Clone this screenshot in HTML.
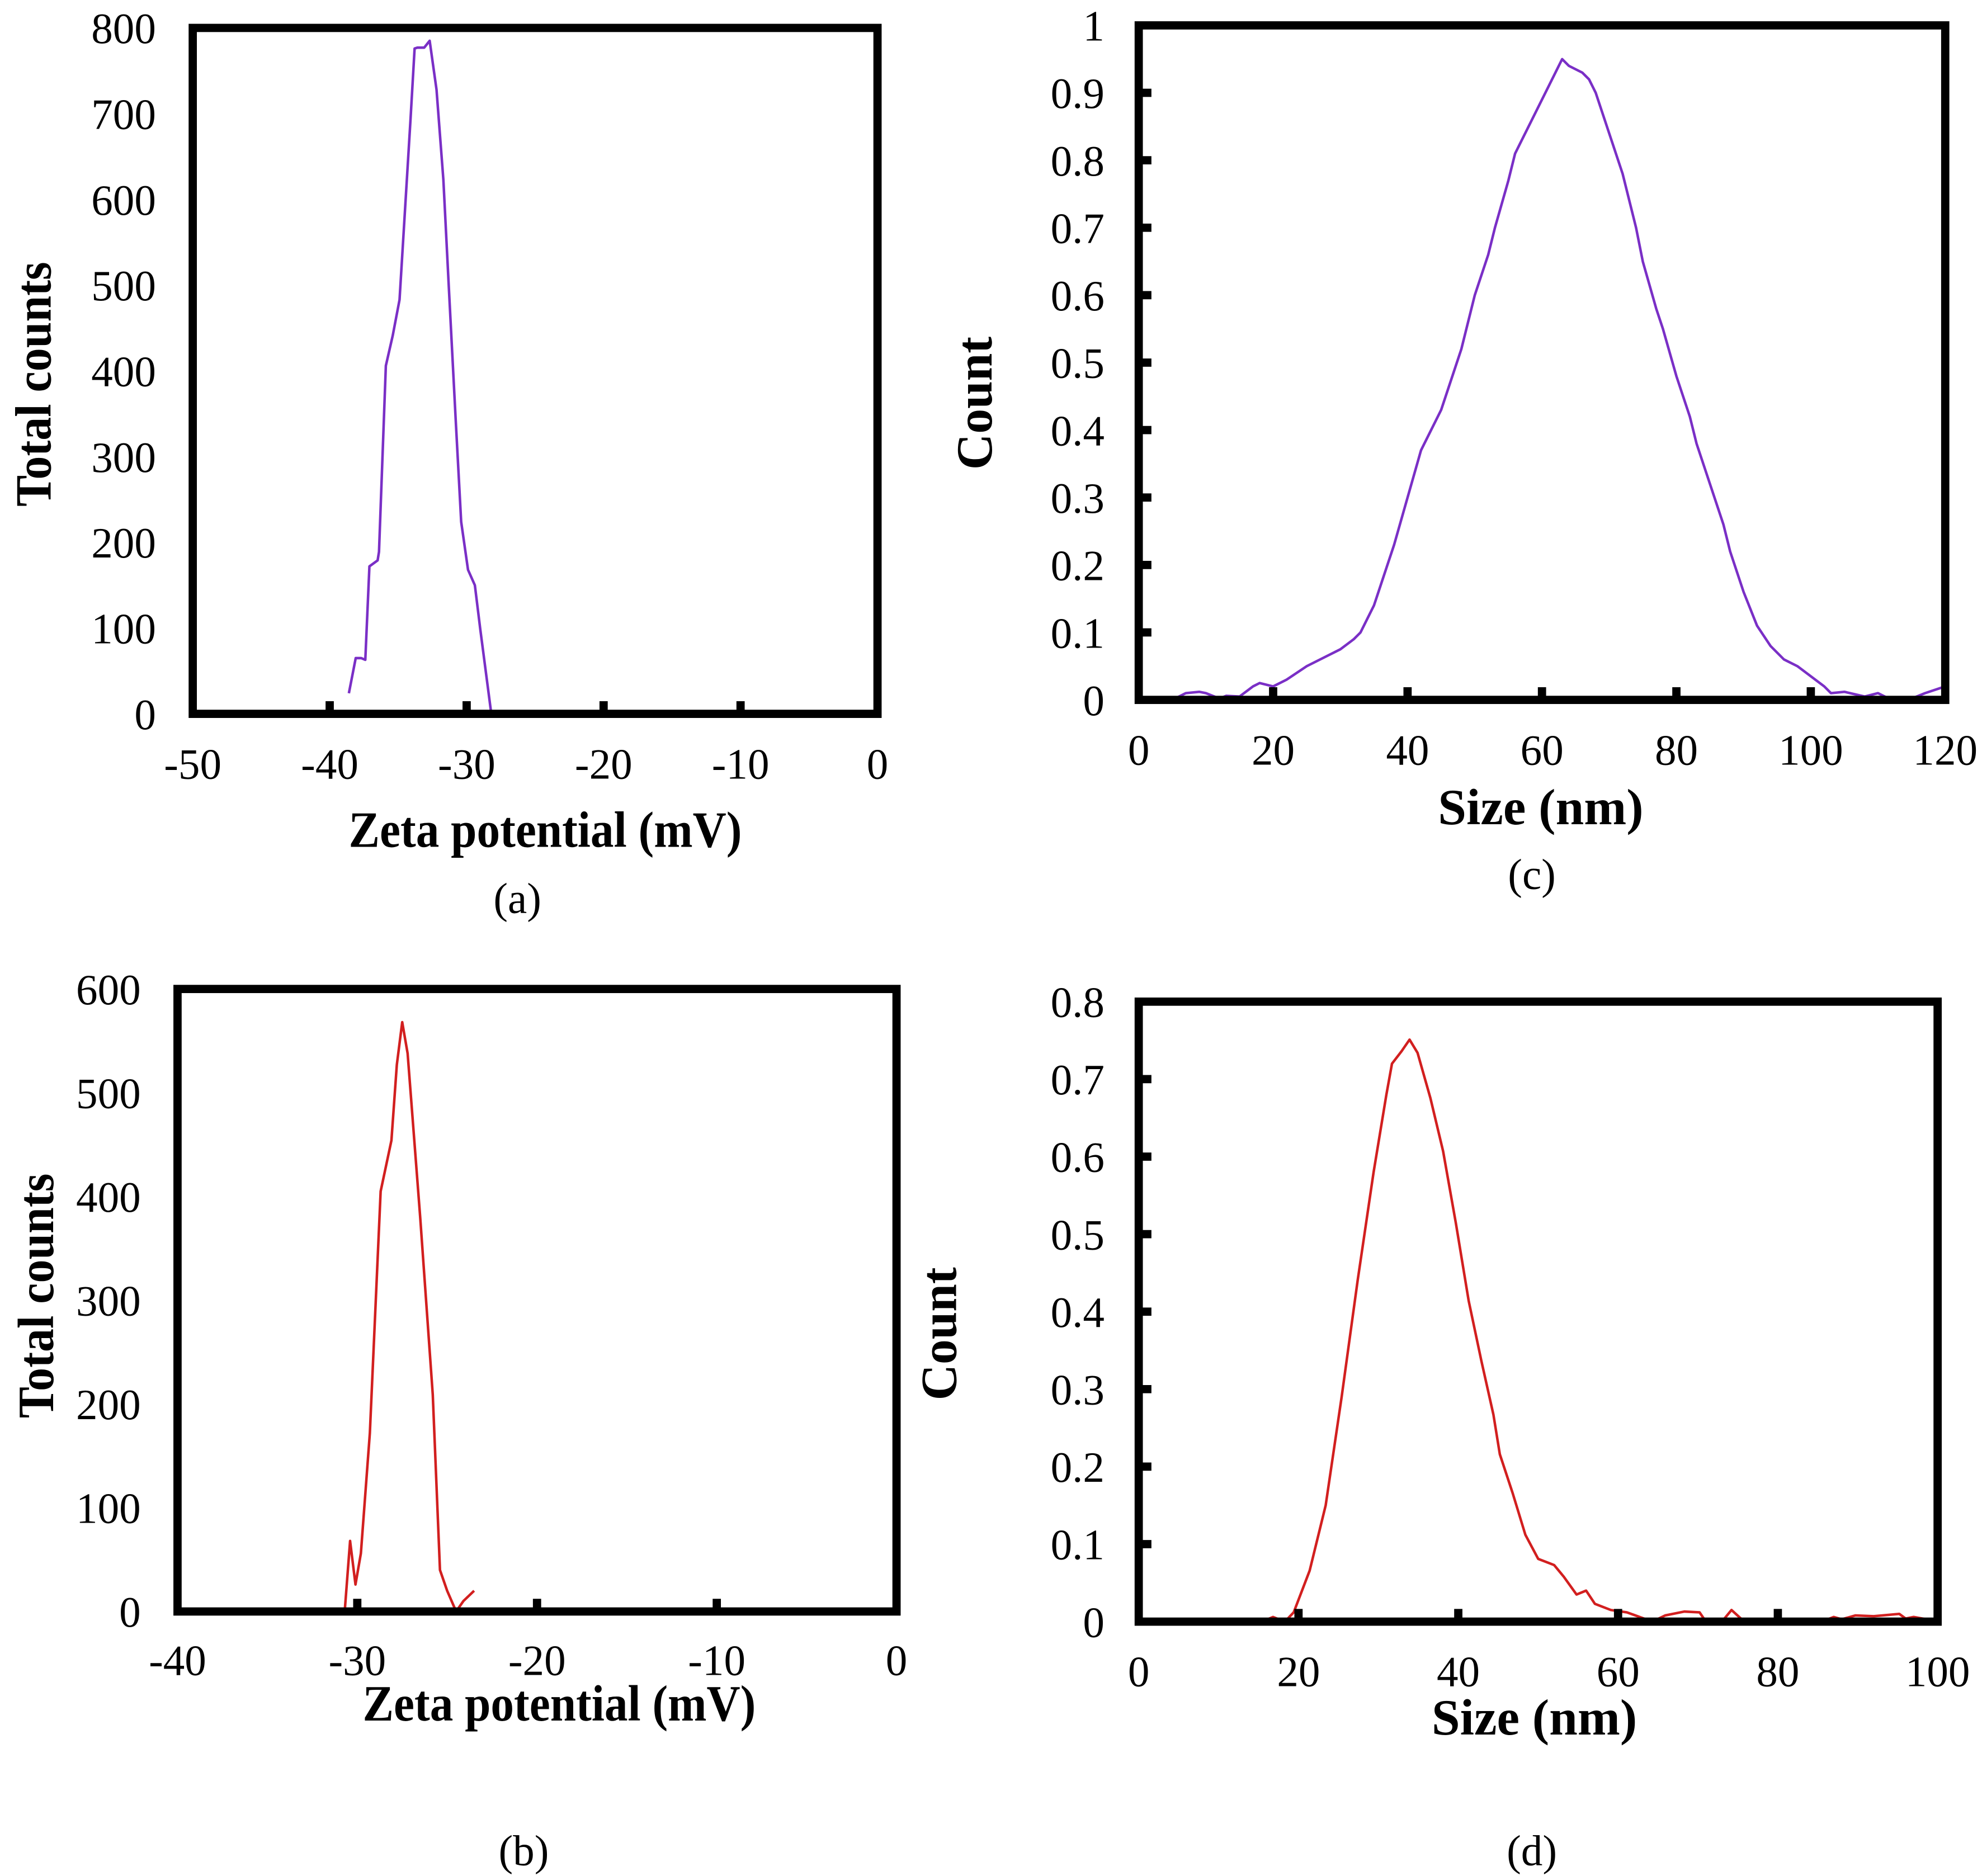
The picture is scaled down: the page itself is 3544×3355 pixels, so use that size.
<!DOCTYPE html>
<html><head><meta charset="utf-8"><style>
html,body{margin:0;padding:0;background:#fff;}
svg{display:block;}
text{font-family:"Liberation Serif",serif;fill:#000;}
</style></head><body>
<svg id="fig" width="3544" height="3355" viewBox="0 0 1563 1479.6" xmlns="http://www.w3.org/2000/svg"></svg>
<script>
// Panel (a) data
const aX = [-38.6,-38.1,-37.7,-37.4,-37.1,-36.5,-36.4,-35.9,-35.4,-34.9,-34.5,-34.1,-33.8,-33.6,-33.1,-32.7,-32.2,-31.7,-31.3,-30.8,-30.4,-29.9,-29.4,-29.0,-28.2];
const aY = [24,65,65,63,172,179,189,406,441,483,588,693,776,777,777,785,728,623,497,343,224,168,150,98,0];
const aXTicks = [-50,-40,-30,-20,-10,0];
const aYTicks = [0,100,200,300,400,500,600,700,800];
// Panel (b) data
const bX = [-30.7,-30.4,-30.1,-29.8,-29.3,-28.7,-28.1,-27.8,-27.5,-27.2,-26.5,-25.8,-25.4,-25.0,-24.5,-24.1,-23.5];
const bY = [0,68,26,56,172,405,454,527,568,538,380,209,40,20,0,10,20];
const bXTicks = [-40,-30,-20,-10,0];
const bYTicks = [0,100,200,300,400,500,600];
// Panel (c) data
const cX = [5,7,9,10,12,13,15,17,18,20,22,25,28,30,32,33,35,36,38,40,42,44,45,47,48,50,52,53,55,56,58,59,61,62,63,64,66,67,68,70,72,74,75,77,78,80,82,83,85,87,88,90,92,94,96,98,100,102,103,105,108,110,112,115,117,120];
const cY = [0,0.01,0.012,0.01,0.002,0.006,0.005,0.02,0.025,0.02,0.03,0.05,0.065,0.075,0.09,0.1,0.14,0.17,0.23,0.3,0.37,0.41,0.43,0.49,0.52,0.6,0.66,0.7,0.77,0.81,0.85,0.87,0.91,0.93,0.95,0.94,0.93,0.92,0.9,0.84,0.78,0.7,0.65,0.58,0.55,0.48,0.42,0.38,0.32,0.26,0.22,0.16,0.11,0.08,0.06,0.05,0.035,0.02,0.01,0.012,0.005,0.01,0,0.002,0.01,0.02];
const cXTicks = [0,20,40,60,80,100,120];
const cYTicks = [0,0.1,0.2,0.3,0.4,0.5,0.6,0.7,0.8,0.9,1];
const cYLabels = ["0","0.1","0.2","0.3","0.4","0.5","0.6","0.7","0.8","0.9","1"];
// Panel (d) data
const dX = [15.9,16.8,18.3,19.4,21.4,23.4,25.4,27.4,29.4,31.0,31.7,32.9,33.9,34.9,36.5,38.1,39.7,41.3,42.9,44.4,45.2,46.8,48.4,50.0,52.0,53.2,54.8,56.0,57.1,59.1,61.1,64.3,65.9,68.3,70.2,71,73,74.2,75.8];
const dY = [0.002,0.006,0,0.012,0.066,0.15,0.29,0.44,0.58,0.68,0.72,0.736,0.751,0.734,0.676,0.607,0.514,0.414,0.336,0.267,0.216,0.166,0.112,0.081,0.073,0.058,0.035,0.04,0.023,0.015,0.012,0,0.008,0.013,0.012,0,0,0.015,0];
const dX2 = [86,87,88,89.7,92,95.2,96,97,99.2];
const dY2 = [0.002,0.006,0.003,0.008,0.007,0.01,0.004,0.006,0.002];
const dXTicks = [0,20,40,60,80,100];
const dYTicks = [0,0.1,0.2,0.3,0.4,0.5,0.6,0.7,0.8];
const dYLabels = ["0","0.1","0.2","0.3","0.4","0.5","0.6","0.7","0.8"];

const NS = "http://www.w3.org/2000/svg";
const svg = document.getElementById('fig');
function mk(tag, attrs, parent){const e=document.createElementNS(NS,tag);for(const k in attrs)e.setAttribute(k,attrs[k]);(parent||svg).appendChild(e);return e;}

function panel(p){
  const g = mk('g',{});
  
  
  const sx = v => p.x0 + (v - p.xmin)/(p.xmax - p.xmin)*(p.x1 - p.x0);
  const sy = v => p.y1 - (v - p.ymin)/(p.ymax - p.ymin)*(p.y1 - p.y0);
  p.series.forEach((s,si)=>{
    let d=''; s.x.forEach((v,i)=>{d+=(i?'L':'M')+sx(v).toFixed(2)+','+sy(s.y[i]).toFixed(2);});
    const path = mk('path',{d:d,fill:'none',stroke:p.color,'stroke-width':2,'stroke-linejoin':'round'},g);
    
    
  });
  const fr = mk('rect',{x:p.x0,y:p.y0,width:p.x1-p.x0,height:p.y1-p.y0,fill:'none',stroke:'#000','stroke-width':6.5},g);
  
  
  p.xt.forEach((v,i)=>{
    if(i>0 && i<p.xt.length-1){
      const t = mk('line',{x1:sx(v),x2:sx(v),y1:p.y1,y2:p.y1-10,stroke:'#000','stroke-width':6.5},g);
      
      
    }
    const lb = mk('text',{x:sx(v),y:p.xly,'font-size':34,'text-anchor':'middle'},g);
    lb.textContent = String(v);
    
    
  });
  p.yt.forEach((v,i)=>{
    if(p.yticks && i>0 && i<p.yt.length-1){
      const t = mk('line',{x1:p.x0,x2:p.x0+10,y1:sy(v),y2:sy(v),stroke:'#000','stroke-width':6.5},g);
      
      
    }
    const lb = mk('text',{x:p.ylx,y:sy(v)+12,'font-size':34,'text-anchor':'end'},g);
    lb.textContent = p.yl ? p.yl[i] : String(v);
    
    
  });
  const xt = mk('text',{x:p.xtx,y:p.xty,'font-size':40,'font-weight':'bold','text-anchor':'middle',textLength:p.xtw,lengthAdjust:'spacingAndGlyphs'},g);
  xt.textContent = p.xtitle;
  
  
  const yt = mk('text',{x:0,y:0,'font-size':40,'font-weight':'bold','text-anchor':'middle',textLength:p.ytw,lengthAdjust:'spacingAndGlyphs',transform:`translate(${p.ytx},${p.yty}) rotate(-90)`},g);
  yt.textContent = p.ytitle;
  
  
  const cap = mk('text',{x:p.cx,y:p.cy,'font-size':34,'text-anchor':'middle'},g);
  cap.textContent = p.cap;
  
  
}

panel({name:'panel-a',x0:152,x1:692,y0:22,y1:563,xmin:-50,xmax:0,ymin:0,ymax:800,color:'#7a2fc6',
  series:[{x:aX,y:aY}],xt:aXTicks,yt:aYTicks,yticks:false,xly:614,ylx:123,
  xtitle:'Zeta potential (mV)',xtx:430,xty:668,xtw:310,ytitle:'Total counts',ytx:40,yty:303,ytw:193,cap:'(a)',cx:408,cy:720});
panel({name:'panel-b',x0:140,x1:707,y0:780,y1:1271,xmin:-40,xmax:0,ymin:0,ymax:600,color:'#d21f1f',
  series:[{x:bX,y:bY}],xt:bXTicks,yt:bYTicks,yticks:false,xly:1321,ylx:111,
  xtitle:'Zeta potential (mV)',xtx:441,xty:1357,xtw:310,ytitle:'Total counts',ytx:42,yty:1022,ytw:193,cap:'(b)',cx:413,cy:1471});
panel({name:'panel-c',x0:898,x1:1534,y0:20,y1:552,xmin:0,xmax:120,ymin:0,ymax:1,color:'#7a2fc6',
  series:[{x:cX,y:cY}],xt:cXTicks,yt:cYTicks,yl:cYLabels,yticks:true,xly:603,ylx:871,
  xtitle:'Size (nm)',xtx:1215,xty:650,xtw:162,ytitle:'Count',ytx:782,yty:318,ytw:105,cap:'(c)',cx:1208,cy:701});
panel({name:'panel-d',x0:898,x1:1528,y0:790,y1:1279,xmin:0,xmax:100,ymin:0,ymax:0.8,color:'#d21f1f',
  series:[{x:dX,y:dY},{x:dX2,y:dY2}],xt:dXTicks,yt:dYTicks,yl:dYLabels,yticks:true,xly:1330,ylx:871,
  xtitle:'Size (nm)',xtx:1210,xty:1368,xtw:162,ytitle:'Count',ytx:754,yty:1052,ytw:105,cap:'(d)',cx:1208,cy:1471});
</script>
</body></html>
